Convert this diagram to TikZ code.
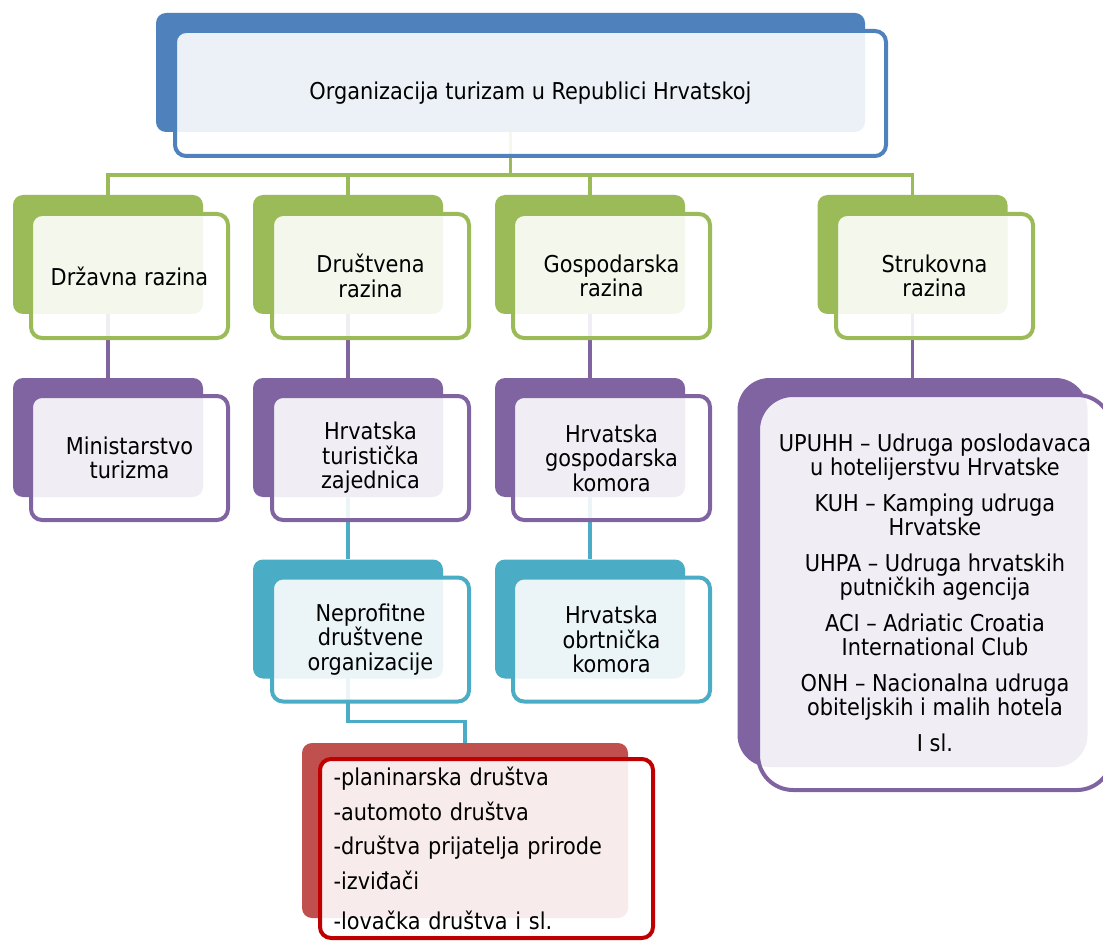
\documentclass[tikz,border=0pt]{standalone}
\usepackage{fontspec}
\setmainfont{DejaVu Sans Condensed}
\usepackage{tikz}
\usetikzlibrary{calc, backgrounds}
\definecolor{levelBlue}{HTML}{4F81BD}
\definecolor{levelGreen}{HTML}{9BBB59}
\definecolor{levelPurple}{HTML}{8064A2}
\definecolor{levelTeal}{HTML}{4BACC6}
\definecolor{levelRed}{HTML}{C0504D}
\definecolor{levelRedDark}{HTML}{C00000}

\begin{document}
\begin{tikzpicture}[
        x=1pt, y=-1pt,
        backbox/.style={rectangle, rounded corners=10pt, minimum width=190pt, minimum height=119pt, inner sep=0pt},
        frontbox/.style={rectangle, rounded corners=11pt, line width=4pt, fill=white, fill opacity=0.89, text opacity=1, minimum width=197pt, minimum height=124pt, align=center, inner sep=0pt, font=\fontsize{23.2}{24.5}\selectfont},
        link/.style={line width=3.5pt}
    ]
        \useasboundingbox (0,0) rectangle (1103,941);

        % Top level
        \node[backbox, fill=levelBlue, minimum width=709pt] (btop) at (510.5,72.5) {};
        \node[frontbox, draw=levelBlue, minimum width=711pt, minimum height=125pt] (top) at (530.5,93.5) {Organizacija turizam u Republici Hrvatskoj};

        % Razine
        \node[backbox, fill=levelGreen] (bdrz) at (108,254.5) {};
        \node[frontbox, draw=levelGreen] (drz) at (129.5,276) {Državna razina};
        \node[backbox, fill=levelGreen] (bdru) at (348,254.5) {};
        \node[frontbox, draw=levelGreen] (dru) at (370.5,276) {Društvena\\razina};
        \node[backbox, fill=levelGreen] (bgos) at (590,254.5) {};
        \node[frontbox, draw=levelGreen] (gos) at (611.5,276) {Gospodarska\\razina};
        \node[backbox, fill=levelGreen] (bstr) at (912.5,254.5) {};
        \node[frontbox, draw=levelGreen] (str) at (934.5,276) {Strukovna\\razina};

        % Institucije
        \node[backbox, fill=levelPurple] (bmin) at (108,437.5) {};
        \node[frontbox, draw=levelPurple] (min) at (129.5,458) {Ministarstvo\\turizma};
        \node[backbox, fill=levelPurple] (bhtz) at (348,437.5) {};
        \node[frontbox, draw=levelPurple] (htz) at (370.5,458) {Hrvatska\\turistička\\zajednica};
        \node[backbox, fill=levelPurple] (bhgk) at (590,437.5) {};
        \node[frontbox, draw=levelPurple] (hgk) at (611.5,458) {Hrvatska\\gospodarska\\komora};
        \node[backbox, fill=levelPurple, rounded corners=32pt, minimum width=350pt, minimum height=389pt] (bstrk) at (912.5,572.5) {};
        \node[frontbox, draw=levelPurple, rounded corners=35pt, minimum width=354pt, minimum height=395pt] (strk) at (935,592.5) {UPUHH – Udruga poslodavaca\\u hotelijerstvu Hrvatske\\[11pt]KUH – Kamping udruga\\Hrvatske\\[11pt]UHPA – Udruga hrvatskih\\putničkih agencija\\[11pt]ACI – Adriatic Croatia\\International Club\\[11pt]ONH – Nacionalna udruga\\obiteljskih i malih hotela\\[11pt]I sl.};

        % Treca razina
        \node[backbox, fill=levelTeal] (bnep) at (348,619) {};
        \node[frontbox, draw=levelTeal] (nep) at (370.5,639.5) {Neprofitne\\društvene\\organizacije};
        \node[backbox, fill=levelTeal] (bhok) at (590,619) {};
        \node[frontbox, draw=levelTeal] (hok) at (611.5,639.5) {Hrvatska\\obrtnička\\komora};

        % Udruge
        \node[backbox, fill=levelRed, minimum width=326pt, minimum height=175pt] (bred) at (465,830.5) {};
        \node[frontbox, draw=levelRedDark, minimum width=333pt, minimum height=179pt, align=left, text width=306pt] (red) at (486.5,848.5) {-planinarska društva\\[10pt]-automoto društva\\[10pt]-društva prijatelja prirode\\[10pt]-izviđači\\[16pt]-lovačka društva i sl.};

        % Connectors
        \begin{scope}[on background layer]
            \foreach \b in {bdrz,bdru,bgos,bstr}
                \draw[link, levelGreen] (btop.center) -- ([yshift=-43pt]btop.south) -| (\b.north);
            \draw[link, levelPurple] (bdrz) -- (bmin);
            \draw[link, levelPurple] (bdru) -- (bhtz);
            \draw[link, levelPurple] (bgos) -- (bhgk);
            \draw[link, levelPurple] (bstr) -- (bstrk);
            \draw[link, levelTeal] (bhtz) -- (bnep);
            \draw[link, levelTeal] (bhgk) -- (bhok);
            \draw[link, levelTeal] (bnep.center) -- ([yshift=-43pt]bnep.south) -| (bred.north);
        \end{scope}
    \end{tikzpicture}
\end{document}
